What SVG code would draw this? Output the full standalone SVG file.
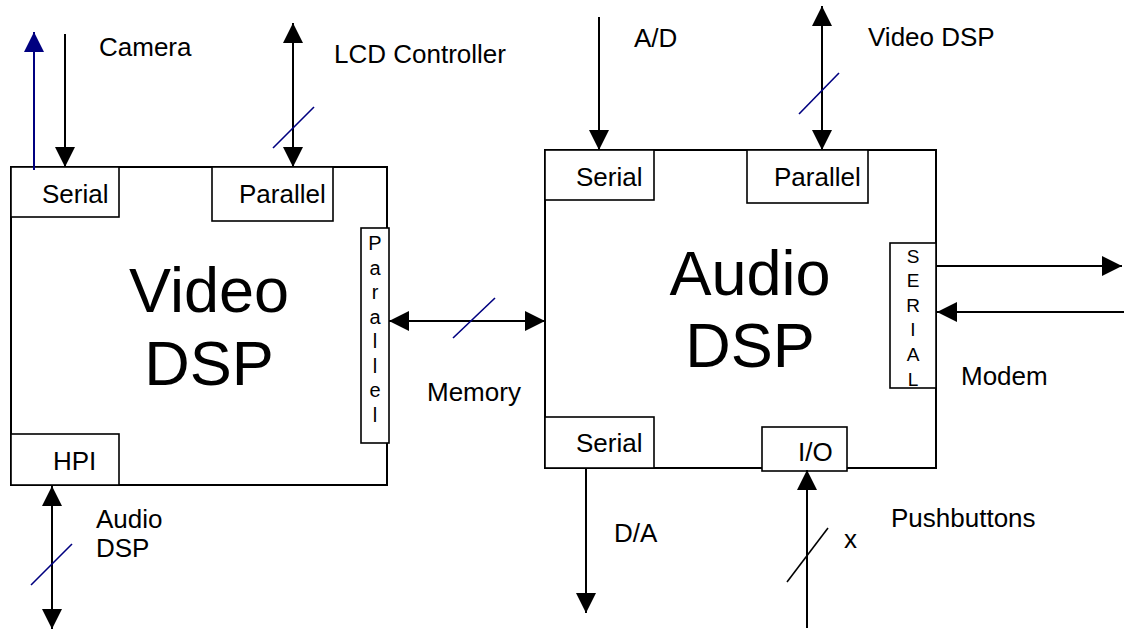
<svg xmlns="http://www.w3.org/2000/svg" width="1124" height="630" viewBox="0 0 1124 630">
<style>
text{font-family:"Liberation Sans",Arial,sans-serif;fill:#000}
.lbl{font-size:26px}
.big{font-size:63px;text-anchor:middle}
.vert{font-size:20px;text-anchor:middle}
.box{fill:#fff;stroke:#000;stroke-width:2}
.port{fill:#fff;stroke:#000;stroke-width:1.6}
.ln{stroke:#000;stroke-width:2;fill:none}
.blue{stroke:#000080;stroke-width:2;fill:none}
.slash{stroke:#000080;stroke-width:1.6}
.slashk{stroke:#000;stroke-width:1.6}
</style>
<defs>
<marker id="ah" markerUnits="userSpaceOnUse" markerWidth="20" markerHeight="20" refX="20" refY="10" orient="auto-start-reverse" viewBox="0 0 20 20"><path d="M0,0 L20,10 L0,20 z" fill="#000"/></marker>
<marker id="ahb" markerUnits="userSpaceOnUse" markerWidth="20" markerHeight="20" refX="20" refY="10" orient="auto-start-reverse" viewBox="0 0 20 20"><path d="M0,0 L20,10 L0,20 z" fill="#000080"/></marker>
</defs>
<rect width="1124" height="630" fill="#fff"/>

<g id="video-dsp">
<rect class="box" x="11" y="167" width="376" height="318"/>
<text class="big" x="209" y="312">Video</text>
<text class="big" x="209" y="385">DSP</text>
</g>
<g id="video-serial">
<rect class="port" x="11" y="167" width="108" height="50"/>
<text class="lbl" x="42" y="203">Serial</text>
</g>
<g id="video-parallel-top">
<rect class="port" x="212" y="167" width="121" height="54"/>
<text class="lbl" x="239" y="203">Parallel</text>
</g>
<g id="video-parallel-side">
<rect class="port" x="361" y="228" width="28" height="215"/>
<text class="vert" x="375" y="250">P</text>
<text class="vert" x="375" y="275">a</text>
<text class="vert" x="375" y="299">r</text>
<text class="vert" x="375" y="324">a</text>
<text class="vert" x="375" y="348">l</text>
<text class="vert" x="375" y="373">l</text>
<text class="vert" x="375" y="397">e</text>
<text class="vert" x="375" y="422">l</text>
</g>
<g id="video-hpi">
<rect class="port" x="11" y="434" width="108" height="51"/>
<text class="lbl" x="53" y="470">HPI</text>
</g>

<g id="audio-dsp">
<rect class="box" x="545" y="150" width="391" height="318"/>
<text class="big" x="750" y="295">Audio</text>
<text class="big" x="750" y="367">DSP</text>
</g>
<g id="audio-serial-top">
<rect class="port" x="545" y="150" width="109" height="50"/>
<text class="lbl" x="576" y="186">Serial</text>
</g>
<g id="audio-parallel-top">
<rect class="port" x="747" y="150" width="121" height="53"/>
<text class="lbl" x="774" y="186">Parallel</text>
</g>
<g id="audio-serial-side">
<rect class="port" x="890" y="243" width="46" height="145"/>
<text class="vert" x="913" y="263" style="font-size:19px">S</text>
<text class="vert" x="913" y="287" style="font-size:19px">E</text>
<text class="vert" x="913" y="312" style="font-size:19px">R</text>
<text class="vert" x="913" y="336" style="font-size:19px">I</text>
<text class="vert" x="913" y="361" style="font-size:19px">A</text>
<text class="vert" x="913" y="386" style="font-size:19px">L</text>
</g>
<g id="audio-serial-bottom">
<rect class="port" x="545" y="417" width="109" height="51"/>
<text class="lbl" x="576" y="452">Serial</text>
</g>
<g id="audio-io">
<rect class="port" x="762" y="427" width="85" height="44"/>
<text class="lbl" x="798" y="461">I/O</text>
</g>

<g id="connectors">
<line class="blue" x1="34" y1="170" x2="34" y2="32" marker-end="url(#ahb)"/>
<line class="ln" x1="65" y1="34" x2="65" y2="167" marker-end="url(#ah)"/>
<line class="ln" x1="293" y1="23" x2="293" y2="167" marker-start="url(#ah)" marker-end="url(#ah)"/>
<line class="slash" x1="273" y1="148" x2="314" y2="107"/>
<line class="ln" x1="389" y1="321" x2="545" y2="321" marker-start="url(#ah)" marker-end="url(#ah)"/>
<line class="slash" x1="453" y1="338" x2="495" y2="298"/>
<line class="ln" x1="52" y1="486" x2="52" y2="629" marker-start="url(#ah)" marker-end="url(#ah)"/>
<line class="slash" x1="31" y1="585" x2="72" y2="544"/>
<line class="ln" x1="599" y1="17" x2="599" y2="150" marker-end="url(#ah)"/>
<line class="ln" x1="822" y1="6" x2="822" y2="150" marker-start="url(#ah)" marker-end="url(#ah)"/>
<line class="slash" x1="799" y1="114" x2="839" y2="73"/>
<line class="ln" x1="936" y1="266" x2="1122" y2="266" marker-end="url(#ah)"/>
<line class="ln" x1="1124" y1="312" x2="937" y2="312" marker-end="url(#ah)"/>
<line class="ln" x1="586" y1="468" x2="586" y2="613" marker-end="url(#ah)"/>
<line class="ln" x1="807" y1="628" x2="807" y2="470" marker-end="url(#ah)"/>
<line class="slashk" x1="787" y1="582" x2="828" y2="528"/>
</g>

<g id="labels">
<text class="lbl" x="99" y="56">Camera</text>
<text class="lbl" x="334" y="63">LCD Controller</text>
<text class="lbl" x="427" y="401">Memory</text>
<text class="lbl" x="96" y="528">Audio</text>
<text class="lbl" x="96" y="557">DSP</text>
<text class="lbl" x="634" y="47">A/D</text>
<text class="lbl" x="868" y="46">Video DSP</text>
<text class="lbl" x="961" y="385">Modem</text>
<text class="lbl" x="614" y="542">D/A</text>
<text class="lbl" x="844" y="548">x</text>
<text class="lbl" x="891" y="527">Pushbuttons</text>
</g>
</svg>
